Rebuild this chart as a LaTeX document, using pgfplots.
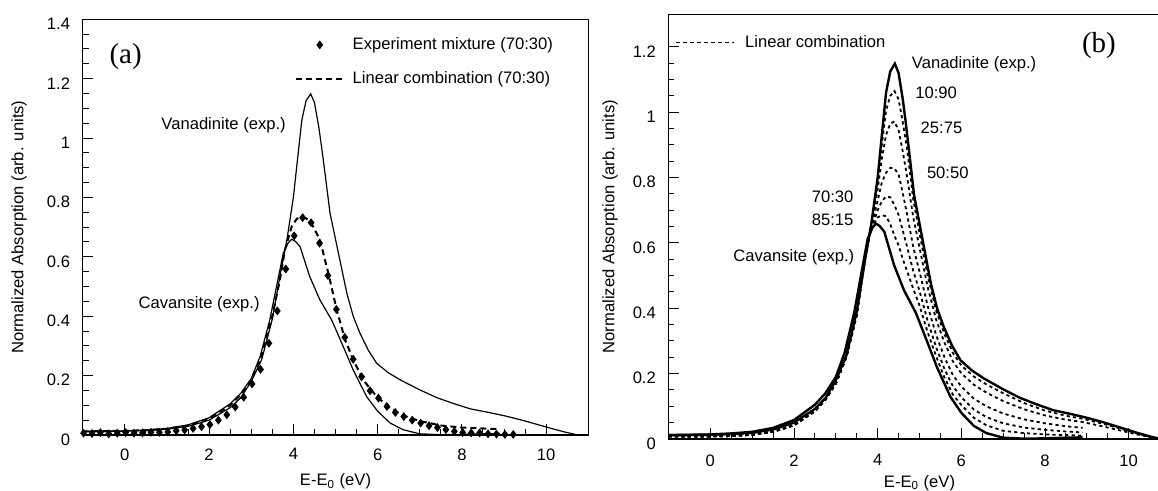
\documentclass[border=0pt]{standalone}
\usepackage{pgfplots}
\pgfplotsset{compat=1.18}
\usepackage{pgfplotstable}
\usepackage{fontspec}
\setmainfont{Liberation Sans}
\newfontfamily\seriffont{Liberation Serif}

\pgfplotstableread{
x v
-1 0.012
-0.5 0.012
0 0.013
0.5 0.015
1 0.019
1.5 0.029
2 0.05
2.5 0.092
2.75 0.125
3.0 0.18
3.25 0.255
3.5 0.39
3.7 0.55
3.85 0.66
4.0 0.80
4.1 0.93
4.2 1.06
4.3 1.125
4.41 1.149
4.5 1.12
4.6 1.04
4.67 0.97
4.77 0.86
4.87 0.747
5.07 0.612
5.27 0.477
5.42 0.40
5.58 0.343
5.78 0.285
5.98 0.241
6.25 0.210
6.53 0.186
7.0 0.152
7.4 0.126
7.8 0.106
8.2 0.088
8.6 0.077
9.0 0.065
9.4 0.051
9.8 0.035
10.2 0.019
10.5 0.008
10.75 0.0
}\vanTab

\pgfplotstableread{
x c
-1 0.012
-0.5 0.013
0 0.014
0.5 0.017
1 0.022
1.5 0.034
2 0.058
2.5 0.105
2.75 0.14
3.0 0.19
3.21 0.264
3.44 0.387
3.6 0.5
3.76 0.612
3.88 0.648
3.96 0.659
4.05 0.652
4.16 0.634
4.39 0.533
4.63 0.455
4.91 0.387
5.15 0.309
5.42 0.219
5.74 0.129
6.0 0.08
6.3 0.04
6.6 0.018
7.0 0.004
7.5 0.001
8.0 0.002
8.5 0.004
8.9 0.005
}\cavTab

\pgfplotstableread{
x l
-1 0.012
-0.5 0.013
0 0.014
0.5 0.016
1 0.021
1.5 0.032
2 0.055
2.5 0.1
2.75 0.135
3.0 0.185
3.25 0.27
3.5 0.4
3.68 0.522
3.80 0.623
3.96 0.702
4.08 0.728
4.2 0.735
4.3 0.73
4.43 0.713
4.63 0.657
4.83 0.545
5.03 0.421
5.23 0.32
5.42 0.253
5.66 0.185
5.98 0.129
6.3 0.09
6.6 0.066
7.0 0.047
7.5 0.032
8.0 0.025
8.5 0.022
8.85 0.02
}\linTab

\pgfplotstableread{
x y
-0.98 0.006
-0.78 0.005
-0.58 0.008
-0.38 0.004
-0.18 0.006
0.02 0.008
0.22 0.006
0.42 0.007
0.62 0.009
0.82 0.009
1.02 0.01
1.22 0.014
1.42 0.017
1.62 0.022
1.82 0.028
2.02 0.035
2.22 0.05
2.42 0.068
2.62 0.094
2.82 0.127
3.02 0.172
3.22 0.221
3.42 0.309
3.62 0.418
3.82 0.559
4.02 0.671
4.22 0.732
4.42 0.715
4.62 0.646
4.82 0.537
5.02 0.423
5.22 0.329
5.42 0.255
5.62 0.196
5.82 0.149
6.02 0.124
6.22 0.096
6.42 0.076
6.62 0.062
6.82 0.05
7.02 0.04
7.22 0.031
7.42 0.025
7.62 0.018
7.82 0.012
8.02 0.008
8.22 0.007
8.42 0.007
8.62 0.004
8.82 0.003
9.02 0.002
9.22 0.002
}\mixTab

\pgfplotstableread{
x a b c d e
-1 0.008 0.008 0.008 0.008 0.008
0 0.008 0.008 0.008 0.008 0.008
0.5 0.009 0.009 0.009 0.009 0.009
1 0.013 0.013 0.013 0.013 0.013
1.5 0.022 0.022 0.022 0.022 0.022
2 0.042 0.042 0.042 0.042 0.042
2.5 0.085 0.085 0.085 0.085 0.085
2.75 0.12 0.12 0.12 0.12 0.12
3.0 0.17 0.17 0.17 0.17 0.17
3.25 0.25 0.25 0.25 0.25 0.25
3.5 0.38 0.38 0.38 0.38 0.38
3.7 0.552 0.555 0.56 0.564 0.567
3.85 0.658 0.655 0.65 0.646 0.643
4.0 0.786 0.764 0.7285 0.70 0.6785
4.1 0.901 0.858 0.786 0.728 0.685
4.2 1.005 0.93 0.815 0.742 0.682
4.3 1.05 0.965 0.83 0.74 0.658
4.4 1.065 0.972 0.828 0.716 0.6225
4.5 1.04 0.945 0.81 0.686 0.593
4.6 0.97 0.88 0.7525 0.6375 0.551
4.7 0.89 0.805 0.69 0.59 0.515
4.85 0.734 0.679 0.5875 0.5145 0.46
5.0 0.63 0.586 0.5125 0.4535 0.409
5.2 0.497 0.4625 0.405 0.359 0.3245
5.4 0.392 0.364 0.3175 0.2805 0.2525
5.6 0.32 0.294 0.249 0.213 0.187
5.8 0.263 0.2375 0.195 0.161 0.1355
6.0 0.225 0.201 0.1605 0.128 0.104
6.3 0.191 0.166 0.1235 0.09 0.065
6.6 0.167 0.142 0.1 0.067 0.042
7.0 0.14 0.116 0.078 0.048 0.025
7.5 0.11 0.091 0.06 0.035 0.018
8.0 0.087 0.072 0.048 0.028 0.014
8.5 0.071 0.059 0.039 0.023 0.012
8.9 0.062 0.052 0.034 0.02 0.01
9.4 0.046 0.038 nan nan nan
9.8 0.032 0.026 nan nan nan
10.2 0.017 0.014 nan nan nan
10.5 0.007 0.006 nan nan nan
10.75 0 0 nan nan nan
}\comboTab

\tikzset{txt/.style={font=\fontsize{8.3}{10}\selectfont, inner sep=0pt}}

\pgfplotsset{
  panel/.style={
    scale only axis,
    anchor=south west,
    xmin=-1, xmax=11,
    xtick={0,2,4,6,8,10},
    minor x tick num=3,
    minor y tick num=3,
    tick pos=left,
    tick align=inside,
    major tick length=5.25pt,
    minor tick length=2.9pt,
    every tick/.style={black, line width=0.5pt},
    axis line style={line width=0.6pt},
    /pgf/number format/assume math mode=true,
    tick label style={font=\fontsize{8.3}{10}\selectfont},
    yticklabel style={xshift=-2.8pt, yshift=-2.3pt},
    label style={font=\fontsize{8.3}{10}\selectfont},
    xlabel={E-E\textsubscript{0} (eV)},
    ylabel={Normalized Absorption (arb. units)},
    legend cell align=left,
    clip=true,
  },
}

\begin{document}
\begin{tikzpicture}
\useasboundingbox (0,0) rectangle (579pt,245.5pt);

% ---------------- panel (a)
\begin{axis}[panel,
  at={(41.35pt,28pt)}, width=252.8pt, height=207.85pt,
  ymin=0, ymax=1.4,
  ytick={0,0.2,0.4,0.6,0.8,1,1.2,1.4},
  xticklabel style={yshift=-3.2pt},
  xlabel style={at={(axis description cs:0.5,0)}, anchor=base, yshift=-25.5pt},
  ylabel style={at={(axis description cs:-0.126,0.5)}, anchor=center},
  legend style={at={(axis description cs:0.4196,0.9707)}, anchor=north west,
    draw=none, fill=none, inner sep=0pt, row sep=4pt, column sep=1.5pt,
    nodes={inner sep=2.75pt}, font=\fontsize{8.3}{10}\selectfont},
  legend image code/.code={\draw[mark repeat=2,mark phase=2,#1] plot coordinates {(0pt,0pt)(11.75pt,0pt)(23.5pt,0pt)};},
]
\addplot[forget plot, black, line width=0.6pt] table[x=x,y=v] {\vanTab};
\addplot[forget plot, black, line width=0.6pt] table[x=x,y=c] {\cavTab};
\addplot[forget plot, black, line width=1pt, dash pattern=on 3pt off 2pt] table[x=x,y=l] {\linTab};
\addplot[forget plot, only marks, mark=diamond*, mark size=1.9pt, black] table[x=x,y=y] {\mixTab};
\addlegendimage{only marks, mark=diamond*, mark size=1.9pt, black}
\addlegendentry{Experiment mixture (70:30)}
\addlegendimage{black, line width=1pt, dash pattern=on 3pt off 2pt}
\addlegendentry{Linear combination (70:30)}
\node[txt, anchor=west] at (axis cs:0.86,1.044) {Vanadinite (exp.)};
\node[txt, anchor=west] at (axis cs:0.32,0.44) {Cavansite (exp.)};
\node[font=\seriffont\fontsize{14.5}{16}\selectfont, inner sep=0pt] at (axis cs:0.02,1.273) {(a)};
\end{axis}

% ---------------- panel (b)
\begin{axis}[panel,
  at={(334.25pt,26pt)}, width=251pt, height=212.35pt,
  ymin=0, ymax=1.3,
  ytick={0,0.2,0.4,0.6,0.8,1,1.2},
  xticklabel style={yshift=-4.2pt},
  xlabel style={at={(axis description cs:0.5,0)}, anchor=base, yshift=-24.2pt},
  ylabel style={at={(axis description cs:-0.1165,0.5)}, anchor=center},
  legend style={at={(axis description cs:0.01358,0.9615)}, anchor=north west,
    draw=none, fill=none, inner sep=0pt, column sep=3pt,
    nodes={inner sep=2pt}, font=\fontsize{8.3}{10}\selectfont},
  legend image code/.code={\draw[#1] (0pt,0pt) -- (29pt,0pt);},
]
\addplot[forget plot, black, line width=1.2pt] table[x=x,y=v] {\vanTab};
\addplot[forget plot, black, line width=1.2pt] table[x=x,y=c] {\cavTab};
\addplot[forget plot, black, line width=0.9pt, dash pattern=on 1.6pt off 1.6pt] table[x=x,y=a] {\comboTab};
\addplot[forget plot, black, line width=0.9pt, dash pattern=on 1.6pt off 1.6pt] table[x=x,y=b] {\comboTab};
\addplot[forget plot, black, line width=0.9pt, dash pattern=on 1.6pt off 1.6pt] table[x=x,y=c] {\comboTab};
\addplot[forget plot, black, line width=0.9pt, dash pattern=on 1.6pt off 1.6pt] table[x=x,y=d] {\comboTab};
\addplot[forget plot, black, line width=0.9pt, dash pattern=on 1.6pt off 1.6pt] table[x=x,y=e] {\comboTab};
\addlegendimage{black, line width=0.75pt, dash pattern=on 2pt off 1.5pt}
\addlegendentry{Linear combination}
\node[txt, anchor=west] at (axis cs:4.81,1.146) {Vanadinite (exp.)};
\node[txt, anchor=west] at (axis cs:4.89,1.06) {10:90};
\node[txt, anchor=west] at (axis cs:5.02,0.953) {25:75};
\node[txt, anchor=west] at (axis cs:5.17,0.816) {50:50};
\node[txt, anchor=east] at (axis cs:3.43,0.742) {70:30};
\node[txt, anchor=east] at (axis cs:3.43,0.671) {85:15};
\node[txt, anchor=east] at (axis cs:3.45,0.556) {Cavansite (exp.)};
\node[font=\seriffont\fontsize{14.5}{16}\selectfont, inner sep=0pt] at (axis cs:9.29,1.205) {(b)};
\end{axis}
\end{tikzpicture}
\end{document}
